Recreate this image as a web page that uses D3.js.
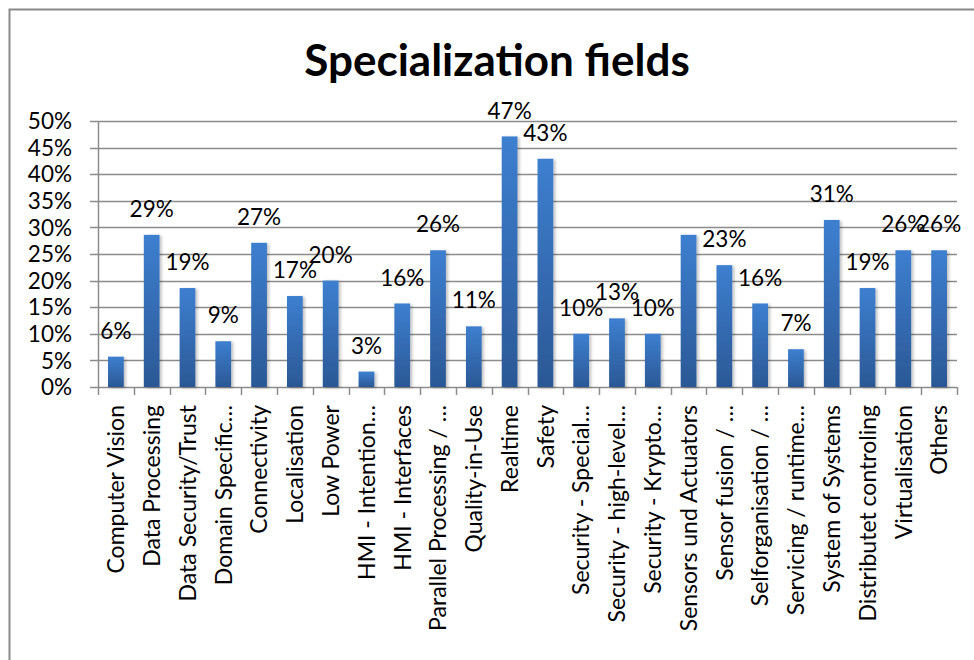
<!DOCTYPE html>
<html>
<head>
<meta charset="utf-8">
<script src="https://cdn.jsdelivr.net/npm/d3@7"></script>
<style>
  html, body { margin: 0; padding: 0; background: #ffffff; }
  svg { display: block; }
  text { font-family: Lato, "Open Sans", "DejaVu Sans", sans-serif; fill: #000; }
</style>
</head>
<body>
<svg id="chart" width="974" height="660"></svg>
<script>
// Share of respondents per specialization field (percent)
const categories = [
  "Computer Vision", "Data Processing", "Data Security/Trust", "Domain Specific…",
  "Connectivity", "Localisation", "Low Power", "HMI - Intention…",
  "HMI - Interfaces", "Parallel Processing / …", "Quality-in-Use", "Realtime",
  "Safety", "Security - Special…", "Security - high-level…", "Security - Krypto…",
  "Sensors und Actuators", "Sensor fusion / …", "Selforganisation / …", "Servicing / runtime…",
  "System of Systems", "Distributet controling", "Virtualisation", "Others"
];
const values = [
  5.7, 28.6, 18.6, 8.6,
  27.1, 17.1, 20.0, 2.9,
  15.7, 25.7, 11.4, 47.1,
  42.9, 10.0, 12.9, 10.0,
  28.6, 22.9, 15.7, 7.1,
  31.4, 18.6, 25.7, 25.7
];
// Categories whose data label is not shown
const unlabeled = ["Sensors und Actuators"];
const yTicks = [0, 5, 10, 15, 20, 25, 30, 35, 40, 45, 50];
const title = "Specialization fields";

const svg = d3.select("#chart");

// Outer chart frame (top and left edges visible)
svg.append("path")
  .attr("d", "M9.5,660 V9.5 H974")
  .attr("fill", "none")
  .attr("stroke", "#8a8a8a")
  .attr("stroke-width", 2);

const plot = { left: 98, right: 957, top: 121, bottom: 387 };

const x = d3.scaleBand()
  .domain(categories)
  .range([plot.left, plot.right])
  .paddingInner(0)
  .paddingOuter(0);

const y = d3.scaleLinear()
  .domain([0, 50])
  .range([plot.bottom, plot.top]);

// Bar gradient and soft shadow
const defs = svg.append("defs");
const grad = defs.append("linearGradient")
  .attr("id", "barFill")
  .attr("x1", 0).attr("y1", 0).attr("x2", 0).attr("y2", 1);
grad.append("stop").attr("offset", "0%").attr("stop-color", "#3d7fd0");
grad.append("stop").attr("offset", "100%").attr("stop-color", "#2b5895");

const shadow = defs.append("filter")
  .attr("id", "barShadow")
  .attr("x", "-30%").attr("y", "-10%").attr("width", "170%").attr("height", "120%");
shadow.append("feDropShadow")
  .attr("dx", 2).attr("dy", 1)
  .attr("stdDeviation", 1.5)
  .attr("flood-color", "#000")
  .attr("flood-opacity", 0.25);

// Horizontal gridlines, extending into the tick marks on the left
svg.append("g")
  .selectAll("line")
  .data(yTicks)
  .join("line")
  .attr("x1", plot.left - 8)
  .attr("x2", plot.right)
  .attr("y1", d => Math.round(y(d)) + 0.5)
  .attr("y2", d => Math.round(y(d)) + 0.5)
  .attr("stroke", "#8c8c8c")
  .attr("stroke-width", 1.5);

// Y axis line
svg.append("line")
  .attr("x1", plot.left + 0.5).attr("x2", plot.left + 0.5)
  .attr("y1", plot.top).attr("y2", plot.bottom)
  .attr("stroke", "#8c8c8c")
  .attr("stroke-width", 1.5);

// Y tick labels
svg.append("g")
  .selectAll("text")
  .data(yTicks)
  .join("text")
  .attr("x", 72)
  .attr("y", d => y(d))
  .attr("dy", "0.36em")
  .attr("text-anchor", "end")
  .attr("font-size", 22.5)
  .text(d => d + "%");

// X tick marks at the category boundaries
const boundaries = categories.map(c => x(c)).concat([plot.right]);
svg.append("g")
  .selectAll("line")
  .data(boundaries)
  .join("line")
  .attr("x1", d => Math.round(d) + 0.5)
  .attr("x2", d => Math.round(d) + 0.5)
  .attr("y1", plot.bottom)
  .attr("y2", plot.bottom + 8)
  .attr("stroke", "#8c8c8c")
  .attr("stroke-width", 1.5);

// Bars
const rows = categories.map((c, i) => ({ cat: c, value: values[i] }));
const barW = x.bandwidth() * 0.44;
svg.append("g")
  .selectAll("rect")
  .data(rows)
  .join("rect")
  .attr("x", d => x(d.cat) + (x.bandwidth() - barW) / 2)
  .attr("y", d => y(d.value))
  .attr("width", barW)
  .attr("height", d => y(0) - y(d.value))
  .attr("fill", "url(#barFill)")
  .attr("filter", "url(#barShadow)");

// Data labels above the bars
svg.append("g")
  .selectAll("text")
  .data(rows.filter(d => !unlabeled.includes(d.cat)))
  .join("text")
  .attr("x", d => x(d.cat) + x.bandwidth() / 2)
  .attr("y", d => y(d.value) - 26)
  .attr("dy", "0.36em")
  .attr("text-anchor", "middle")
  .attr("font-size", 22.5)
  .text(d => Math.round(d.value) + "%");

// Rotated category labels
svg.append("g")
  .selectAll("text")
  .data(categories)
  .join("text")
  .attr("transform", d => `translate(${x(d) + x.bandwidth() / 2},405) rotate(-90)`)
  .attr("dy", "0.36em")
  .attr("text-anchor", "end")
  .attr("font-size", 23)
  .text(d => d);

// Chart title
svg.append("text")
  .attr("x", 497)
  .attr("y", 76)
  .attr("text-anchor", "middle")
  .attr("font-size", 44)
  .attr("font-weight", "bold")
  .text(title);
</script>
</body>
</html>
